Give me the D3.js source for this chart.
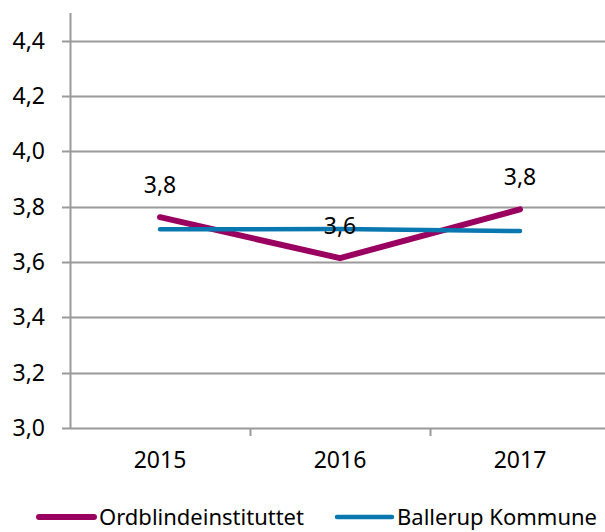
<!DOCTYPE html>
<html>
<head>
<meta charset="utf-8">
<script src="https://cdn.jsdelivr.net/npm/d3@7"></script>
<style>
  body { margin: 0; background: #fff; }
  svg text { font-family: "Noto Sans", "Open Sans", sans-serif; fill: #000; }
</style>
</head>
<body>
<div id="chart"></div>
<script>
var years = ["2015", "2016", "2017"];
var ordblind = [3.762, 3.614, 3.79];
var ballerup = [3.718, 3.719, 3.712];
var ordblindLabels = ["3,8", "3,6", "3,8"];
var yTicks = [3.0, 3.2, 3.4, 3.6, 3.8, 4.0, 4.2, 4.4];
var seriesNames = ["Ordblindeinstituttet", "Ballerup Kommune"];
var seriesColors = ["#990060", "#0a78b0"];

var W = 605, H = 532;
var fontSize = "23px";

var x = d3.scaleBand()
    .domain(years)
    .range([70, 610]);
var y = d3.scaleLinear()
    .domain([3.0, 4.5])
    .range([428, 13]);

var svg = d3.select("#chart").append("svg")
    .attr("width", W)
    .attr("height", H);

// gridlines
svg.append("g")
    .selectAll("line")
    .data(yTicks)
    .enter().append("line")
    .attr("x1", 62)
    .attr("x2", W)
    .attr("y1", function(d) { return Math.round(y(d)) + 0.5; })
    .attr("y2", function(d) { return Math.round(y(d)) + 0.5; })
    .attr("stroke", "#9a9a9a")
    .attr("stroke-width", 2);

// y axis
var yAxis = svg.append("g")
    .attr("transform", "translate(70,0)")
    .call(d3.axisLeft(y).tickValues(yTicks).tickSize(0).tickPadding(25)
        .tickFormat(function(d) { return d3.format(".1f")(d).replace(".", ","); }));
yAxis.select(".domain").remove();
yAxis.selectAll("text").style("font-size", fontSize);
svg.append("line")
    .attr("x1", 70.5).attr("x2", 70.5)
    .attr("y1", y(4.5)).attr("y2", y(3.0) + 1)
    .attr("stroke", "#9a9a9a").attr("stroke-width", 2);

// x axis
var xAxis = svg.append("g")
    .attr("transform", "translate(0," + (Math.round(y(3.0)) + 0.5) + ")")
    .call(d3.axisBottom(x).tickSize(0).tickPadding(23));
xAxis.select(".domain").remove();
xAxis.selectAll("text").style("font-size", fontSize);
svg.append("g")
    .selectAll("line")
    .data(years.slice(1))
    .enter().append("line")
    .attr("x1", function(d) { return x(d) + 0.5; })
    .attr("x2", function(d) { return x(d) + 0.5; })
    .attr("y1", y(3.0))
    .attr("y2", y(3.0) + 8)
    .attr("stroke", "#9a9a9a").attr("stroke-width", 2);

var line = d3.line()
    .x(function(d, i) { return x(years[i]) + x.bandwidth() / 2; })
    .y(function(d) { return y(d); });

svg.append("path")
    .datum(ordblind)
    .attr("fill", "none")
    .attr("stroke", seriesColors[0])
    .attr("stroke-width", 6)
    .attr("stroke-linecap", "round")
    .attr("stroke-linejoin", "round")
    .attr("d", line);

svg.append("path")
    .datum(ballerup)
    .attr("fill", "none")
    .attr("stroke", seriesColors[1])
    .attr("stroke-width", 4.5)
    .attr("stroke-linecap", "round")
    .attr("stroke-linejoin", "round")
    .attr("d", line);

// data labels
svg.append("g")
    .selectAll("text")
    .data(ordblind)
    .enter().append("text")
    .attr("x", function(d, i) { return x(years[i]) + x.bandwidth() / 2; })
    .attr("y", function(d) { return y(d) - 32; })
    .attr("text-anchor", "middle")
    .attr("dy", "0.35em")
    .style("font-size", fontSize)
    .text(function(d, i) { return ordblindLabels[i]; });

// legend
var legendX = [39, 337];
var legend = svg.append("g")
    .selectAll("g")
    .data(seriesNames)
    .enter().append("g")
    .attr("transform", function(d, i) { return "translate(" + legendX[i] + ",517)"; });
legend.append("line")
    .attr("x1", 0).attr("x2", 55)
    .attr("stroke", function(d, i) { return seriesColors[i]; })
    .attr("stroke-width", function(d, i) { return i === 0 ? 6 : 4.5; })
    .attr("stroke-linecap", "round");
legend.append("text")
    .attr("x", 60)
    .attr("dy", "0.35em")
    .style("font-size", "22px")
    .text(function(d) { return d; });
</script>
</body>
</html>
